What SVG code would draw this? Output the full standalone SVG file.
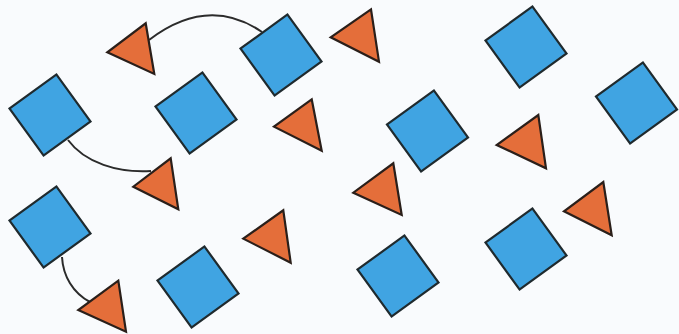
<svg xmlns="http://www.w3.org/2000/svg" xmlns:xlink="http://www.w3.org/1999/xlink" width="679" height="334" viewBox="0 0 679 334">
<style>
.sq{fill:#40a4e2;stroke:#1f2a2e;stroke-width:2.2;stroke-linejoin:miter}
.tri{fill:#e46e3a;stroke:#2a1f1a;stroke-width:2.2;stroke-linejoin:miter}
.con{fill:none;stroke:#2b2b2b;stroke-width:2}
</style>
<defs>
<rect id="sq" x="-29" y="-29" width="58" height="58"/>
</defs>
<rect x="0" y="0" width="679" height="334" fill="#f9fbfd"/>
<g id="connectors">
<path class="con" d="M262,32 Q208,-5 149,40"/>
<path class="con" d="M68,140 C85,163 118,173 151,171"/>
<path class="con" d="M62,257 C63,276 73,293 90,302"/>
</g>
<g id="square1"><use xlink:href="#sq" class="sq" transform="translate(50,115) rotate(-36)"/></g>
<g id="square2"><use xlink:href="#sq" class="sq" transform="translate(196,113) rotate(-36)"/></g>
<g id="square3"><use xlink:href="#sq" class="sq" transform="translate(281,55) rotate(-36)"/></g>
<g id="square4"><use xlink:href="#sq" class="sq" transform="translate(50,227) rotate(-36)"/></g>
<g id="square5"><use xlink:href="#sq" class="sq" transform="translate(198,287) rotate(-36)"/></g>
<g id="square6"><use xlink:href="#sq" class="sq" transform="translate(526,47) rotate(-36)"/></g>
<g id="square7"><use xlink:href="#sq" class="sq" transform="translate(427.5,131) rotate(-36)"/></g>
<g id="square8"><use xlink:href="#sq" class="sq" transform="translate(636.5,103) rotate(-36)"/></g>
<g id="square9"><use xlink:href="#sq" class="sq" transform="translate(398,276) rotate(-36)"/></g>
<g id="square10"><use xlink:href="#sq" class="sq" transform="translate(526,249) rotate(-36)"/></g>
<g id="triangle1"><polygon class="tri" points="145.7,23.3 154.3,74 107.3,52.3"/></g>
<g id="triangle2"><polygon class="tri" points="371,9.3 379,61.7 330.7,37.3"/></g>
<g id="triangle3"><polygon class="tri" points="311.7,99.3 321.7,150.7 274,126.7"/></g>
<g id="triangle4"><polygon class="tri" points="170.7,158.3 178.3,209.3 133.3,186.7"/></g>
<g id="triangle5"><polygon class="tri" points="283.3,210.3 290.7,262.7 243.3,238.7"/></g>
<g id="triangle6"><polygon class="tri" points="118.3,280.7 126,331.7 78.3,310"/></g>
<g id="triangle7"><polygon class="tri" points="538.3,115 546,168.3 496.7,145"/></g>
<g id="triangle8"><polygon class="tri" points="393.3,163.3 401.7,215 353.3,192.7"/></g>
<g id="triangle9"><polygon class="tri" points="603.3,182 611.7,235.3 564,211.3"/></g>
</svg>
